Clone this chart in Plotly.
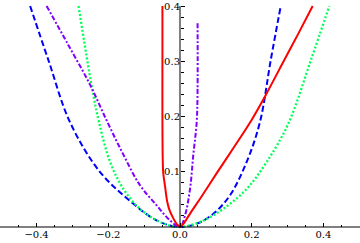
import plotly.graph_objects as go

# ---- data ----
red_x = [-0.049, -0.049, -0.049, -0.047, -0.042, -0.036, -0.030, -0.019, -0.010, -0.005, 0.0,
         0.010, 0.019, 0.035, 0.056, 0.102, 0.149, 0.198, 0.240, 0.289, 0.330, 0.370]
red_y = [0.400, 0.300, 0.190, 0.100, 0.075, 0.047, 0.032, 0.016, 0.006, 0.003, 0.0,
         0.006, 0.015, 0.031, 0.051, 0.097, 0.143, 0.192, 0.240, 0.300, 0.350, 0.400]

blue_x = [-0.418, -0.367, -0.307, -0.223, -0.130, -0.074, -0.035, 0.0,
          0.047, 0.093, 0.139, 0.186, 0.223, 0.253, 0.281]
blue_y = [0.400, 0.302, 0.190, 0.0995, 0.042, 0.015, 0.004, 0.0,
          0.006, 0.024, 0.057, 0.118, 0.190, 0.302, 0.400]

green_x = [-0.283, -0.246, -0.226, -0.195, -0.158, -0.112, -0.065, -0.030, 0.0,
           0.056, 0.121, 0.186, 0.242, 0.302, 0.365, 0.4165]
green_y = [0.400, 0.254, 0.190, 0.118, 0.069, 0.033, 0.012, 0.003, 0.0,
           0.009, 0.033, 0.069, 0.118, 0.187, 0.302, 0.400]

purple_x = [-0.372, -0.312, -0.252, -0.204, -0.158, -0.112, -0.065, -0.028, 0.0,
            0.014, 0.028, 0.037, 0.0466, 0.049, 0.049]
purple_y = [0.400, 0.330, 0.259, 0.192, 0.131, 0.076, 0.039, 0.012, 0.0,
            0.021, 0.069, 0.130, 0.190, 0.250, 0.369]

x_tick_vals = [-0.4, -0.2, 0.0, 0.2, 0.4]
x_tick_text = ["\u22120.4", "\u22120.2", "0.0", "0.2", "0.4"]
x_minor_vals = [-0.5, -0.45, -0.35, -0.3, -0.25, -0.15, -0.1, -0.05,
                0.05, 0.1, 0.15, 0.25, 0.3, 0.35, 0.45, 0.5]
y_tick_vals = [0.1, 0.2, 0.3, 0.4]
y_tick_text = ["0.1", "0.2", "0.3", "0.4"]
y_minor_vals = [0.02, 0.04, 0.06, 0.08, 0.12, 0.14, 0.16, 0.18, 0.22, 0.24,
                0.26, 0.28, 0.32, 0.34, 0.36, 0.38]

# ---- figure ----
W, H = 360, 243
x_range = [-0.502, 0.502]
y_range = [-16 / 552.5, 0.4 + 6 / 552.5]

fig = go.Figure()
fig.add_trace(go.Scatter(x=blue_x, y=blue_y, mode="lines", line_shape="spline",
                         line=dict(color="#0000FF", width=2, dash="6px,3px")))
fig.add_trace(go.Scatter(x=green_x, y=green_y, mode="lines", line_shape="spline",
                         line=dict(color="#00FF55", width=2.3, dash="2px,2px")))
fig.add_trace(go.Scatter(x=purple_x, y=purple_y, mode="lines", line_shape="spline",
                         line=dict(color="#8000FF", width=2, dash="5px,2px,2px,2px")))
fig.add_trace(go.Scatter(x=red_x, y=red_y, mode="lines", line_shape="spline",
                         line=dict(color="#FF0000", width=2, smoothing=0.8)))

font = dict(family="DejaVu Serif", size=10, color="black")

fig.update_layout(
    width=W, height=H, autosize=False,
    margin=dict(l=0, r=0, t=0, b=0, pad=0),
    paper_bgcolor="white", plot_bgcolor="white",
    showlegend=False,
    xaxis=dict(range=x_range, anchor="free",
               position=-y_range[0] / (y_range[1] - y_range[0]),
               showgrid=False, zeroline=False, showline=False,
               tickmode="array", tickvals=x_tick_vals, ticktext=x_tick_text,
               ticks="inside", ticklen=4, tickwidth=1, tickcolor="black",
               minor=dict(tickmode="array", tickvals=x_minor_vals, ticks="inside",
                          ticklen=2, tickwidth=1, tickcolor="black", showgrid=False),
               tickfont=font),
    yaxis=dict(range=y_range, anchor="free",
               position=-x_range[0] / (x_range[1] - x_range[0]),
               showgrid=False, zeroline=False, showline=False,
               tickmode="array", tickvals=y_tick_vals, ticktext=y_tick_text,
               ticks="inside", ticklen=4, tickwidth=1, tickcolor="black",
               minor=dict(tickmode="array", tickvals=y_minor_vals, ticks="inside",
                          ticklen=2.5, tickwidth=1, tickcolor="black", showgrid=False),
               tickfont=font),
    shapes=[
        dict(type="line", xref="paper", yref="y", x0=0, x1=1, y0=0, y1=0,
             line=dict(color="black", width=1)),
        dict(type="line", xref="x", yref="y", x0=0, x1=0, y0=0, y1=0.4,
             line=dict(color="black", width=1)),
    ],
)

fig.write_html("out.html", config={"displayModeBar": False},
               post_script="document.body.style.margin='0';document.body.style.overflow='hidden';")
